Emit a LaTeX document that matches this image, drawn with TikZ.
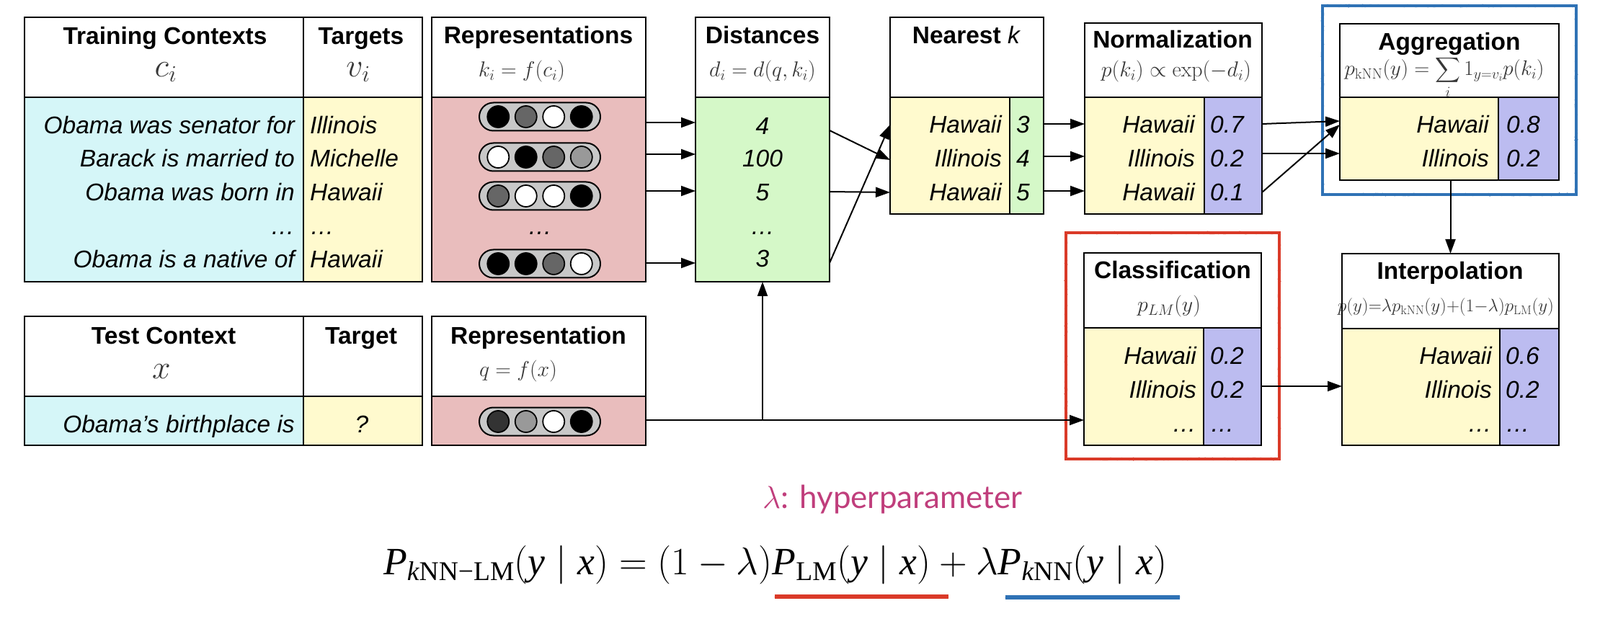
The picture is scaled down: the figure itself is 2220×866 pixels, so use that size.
\RequirePackage{fix-cm}
\documentclass[tikz,border=0pt]{standalone}
\usepackage{amsmath}
\usepackage{graphicx}
\usepackage[no-math]{fontspec}
\setmainfont{Liberation Sans}
\newfontfamily\kTimes{Liberation Serif}
\newfontfamily\kLato{Lato}
\usetikzlibrary{arrows.meta,decorations.pathmorphing,calc}

\definecolor{cyanF}{RGB}{213,246,248}
\definecolor{yelF}{RGB}{255,250,206}
\definecolor{pinkF}{RGB}{233,189,189}
\definecolor{greenF}{RGB}{213,248,200}
\definecolor{lavF}{RGB}{188,188,240}
\definecolor{pillF}{RGB}{200,200,200}
\definecolor{redM}{RGB}{218,58,40}
\definecolor{blueM}{RGB}{47,114,181}
\definecolor{magT}{RGB}{192,62,124}
\definecolor{frmC}{RGB}{55,55,55}
\definecolor{gA}{RGB}{102,102,102}
\definecolor{gB}{RGB}{153,153,153}
\definecolor{gC}{RGB}{51,51,51}

\newcommand{\kfsBody}{\fontsize{33.5}{40}\selectfont}
\newcommand{\kfsHdr}{\fontsize{33.5}{40}\selectfont\bfseries}
\newcommand{\kfsFrm}{\fontsize{30}{36}\selectfont}
\newcommand{\kfsBig}{\fontsize{46}{52}\selectfont}
\newcommand{\kfsEq}{\fontsize{56}{64}\selectfont}
\newcommand{\kfsHyp}{\fontsize{44}{50}\selectfont}
\newcommand{\kT}[1]{\text{\kTimes\itshape #1}}
\newcommand{\kR}[1]{\text{\kTimes\upshape #1}}

\tikzset{
  cell/.style={draw=black, line width=2pt, inner sep=0pt, outer sep=0pt, anchor=north west},
  ttl/.style={font=\kfsHdr, anchor=base, inner sep=0pt},
  frm/.style={font=\kfsFrm, text=frmC, anchor=base, inner sep=0pt},
  bigmath/.style={font=\kfsBig, text=frmC, anchor=base, inner sep=0pt},
  rowR/.style={font=\kfsBody\itshape, anchor=base east, inner sep=0pt},
  rowL/.style={font=\kfsBody\itshape, anchor=base west, inner sep=0pt},
  rowC/.style={font=\kfsBody\itshape, anchor=base, inner sep=0pt},
  arr/.style={line width=2pt, -{Triangle[length=20pt,width=14pt]}},
  pill/.style={draw, line width=2pt, fill=pillF, rounded corners=19.5pt, minimum width=168pt, minimum height=39pt, inner sep=0pt},
  dotc/.style={circle, draw, line width=1.8pt, minimum size=30pt, inner sep=0pt},
  hiliteR/.style={draw=redM, line width=4pt},
  hiliteB/.style={draw=blueM, line width=4pt},
  roughR/.style={draw=redM, line width=2pt, decorate, decoration={random steps, segment length=2.5pt, amplitude=1.3pt}},
  roughB/.style={draw=blueM, line width=2pt, decorate, decoration={random steps, segment length=2.5pt, amplitude=1.3pt}},
}

\newcommand{\cellat}[6]{\node[cell, fill=#6, minimum width=#4pt, minimum height=#5pt] (#1) at (#2,#3) {};}
\newcommand{\pillrow}[6]{%
  \node[pill] (#1) at (749,#2) {};
  \node[dotc, fill=#3] (#1a) at ([xshift=-57.75pt]#1.center) {};
  \node[dotc, fill=#4] (#1b) at ([xshift=-19.25pt]#1.center) {};
  \node[dotc, fill=#5] (#1c) at ([xshift=19.25pt]#1.center) {};
  \node[dotc, fill=#6] (#1d) at ([xshift=57.75pt]#1.center) {};}

\begin{document}
\begin{tikzpicture}[x=1pt,y=-1pt]
\useasboundingbox (0,0) rectangle (2220,866);

% ---------- cells ----------
\cellat{ctxhdr}{34}{24}{387}{111}{white}
\cellat{tgthdr}{421}{24}{165}{111}{white}
\cellat{ctxbody}{34}{135}{387}{256}{cyanF}
\cellat{tgtbody}{421}{135}{165}{256}{yelF}
\cellat{rephdr}{599}{24}{297}{111}{white}
\cellat{repbody}{599}{135}{297}{256}{pinkF}
\cellat{disthdr}{965}{24}{186}{111}{white}
\cellat{distbody}{965}{135}{186}{256}{greenF}
\cellat{nearhdr}{1235}{24}{213}{111}{white}
\cellat{nearbody}{1235}{135}{166}{162}{yelF}
\cellat{nearval}{1401}{135}{47}{162}{greenF}
\cellat{normhdr}{1505}{32}{246}{103}{white}
\cellat{normbody}{1505}{135}{166}{162}{yelF}
\cellat{normval}{1671}{135}{80}{162}{lavF}
\cellat{agghdr}{1859}{33}{304}{102}{white}
\cellat{aggbody}{1859}{135}{220}{115}{yelF}
\cellat{aggval}{2079}{135}{84}{115}{lavF}
\cellat{testhdr}{34}{439}{387}{111}{white}
\cellat{ttgthdr}{421}{439}{165}{111}{white}
\cellat{testbody}{34}{550}{387}{68}{cyanF}
\cellat{ttgtbody}{421}{550}{165}{68}{yelF}
\cellat{qhdr}{599}{439}{297}{111}{white}
\cellat{qbody}{599}{550}{297}{68}{pinkF}
\cellat{clshdr}{1504}{351}{246}{104}{white}
\cellat{clsbody}{1504}{455}{166}{163}{yelF}
\cellat{clsval}{1670}{455}{80}{163}{lavF}
\cellat{inthdr}{1862}{352}{301}{104}{white}
\cellat{intbody}{1862}{456}{219}{162}{yelF}
\cellat{intval}{2081}{456}{82}{162}{lavF}

% ---------- highlight frames ----------
\draw[hiliteR] (1479,323) rectangle (1775,637);
\draw[roughR] (1479,323) rectangle (1775,637);
\draw[hiliteB] (1835,8) rectangle (2187,270);
\draw[roughB] (1835,8) rectangle (2187,270);

% ---------- titles ----------
\node[ttl] (t1) at (229,62) {Training Contexts};
\node[ttl] (t2) at (501,62) {Targets};
\node[ttl] (t3) at (747,61) {Representations};
\node[ttl] (t4) at (1058,61) {Distances};
\node[ttl] (t5) at (1341,61) {Nearest \textnormal{\itshape k}};
\node[ttl] (t6) at (1627,67) {Normalization};
\node[ttl] (t7) at (2011,70) {Aggregation};
\node[ttl] (t8) at (227,477) {Test Context};
\node[ttl] (t9) at (501,477) {Target};
\node[ttl] (t10) at (747,477) {Representation};
\node[ttl] (t11) at (1627,387) {Classification};
\node[ttl] (t12) at (2012,388) {Interpolation};

% ---------- formulas ----------
\node[bigmath] (m1) at (230,107) {$c_i$};
\node[bigmath] (m2) at (497,107) {$v_i$};
\node[bigmath] (m3) at (224,525) {$x$};
\node[frm] (m4) at (724,107) {$k_i = f(c_i)$};
\node[frm] (m5) at (1058,107) {$d_i = d(q,k_i)$};
\node[frm] (m6) at (1632,107) {$p(k_i) \propto \exp(-d_i)$};
\node[frm] (m7) at (2004,105) {\resizebox{277pt}{!}{$p_{\mathrm{kNN}}(y) = \displaystyle\sum_i 1_{y=v_i} p(k_i)$}};
\node[frm] (m8) at (1622,433) {$p_{LM}(y)$};
\node[frm] (m9) at (2006,433) {\resizebox{300pt}{!}{$p(y){=}\lambda p_{\mathrm{kNN}}(y){+}(1{-}\lambda)p_{\mathrm{LM}}(y)$}};
\node[frm] (m10) at (719,522) {$q = f(x)$};

% ---------- training rows ----------
\node[rowR] (c1) at (409,186) {Obama was senator for};
\node[rowR] (c2) at (409,232) {Barack is married to};
\node[rowR] (c3) at (409,279) {Obama was born in};
\node[rowR] (c4) at (409,326) {…};
\node[rowR] (c5) at (409,372) {Obama is a native of};
\node[rowL] (v1) at (430,186) {Illinois};
\node[rowL] (v2) at (430,232) {Michelle};
\node[rowL] (v3) at (430,279) {Hawaii};
\node[rowL] (v4) at (430,326) {…};
\node[rowL] (v5) at (430,372) {Hawaii};

% ---------- representations ----------
\pillrow{p1}{162}{black}{gA}{white}{black}
\pillrow{p2}{218}{white}{black}{gA}{gB}
\pillrow{p3}{272}{gA}{white}{white}{black}
\node[rowC] (p4) at (749,326) {…};
\pillrow{p5}{366}{black}{black}{gA}{white}
\node[pill] (pq) at (749,585) {};
\node[dotc, fill=gC] (pqa) at ([xshift=-57.75pt]pq.center) {};
\node[dotc, fill=gB] (pqb) at ([xshift=-19.25pt]pq.center) {};
\node[dotc, fill=white] (pqc) at ([xshift=19.25pt]pq.center) {};
\node[dotc, fill=black] (pqd) at ([xshift=57.75pt]pq.center) {};

% ---------- distances ----------
\node[rowC] (d1) at (1058,187) {4};
\node[rowC] (d2) at (1058,232) {100};
\node[rowC] (d3) at (1058,279) {5};
\node[rowC] (d4) at (1058,326) {…};
\node[rowC] (d5) at (1058,371) {3};

% ---------- nearest ----------
\node[rowR] (n1) at (1390,185) {Hawaii};
\node[rowR] (n2) at (1390,232) {Illinois};
\node[rowR] (n3) at (1390,279) {Hawaii};
\node[rowL] (nv1) at (1410,185) {3};
\node[rowL] (nv2) at (1410,232) {4};
\node[rowL] (nv3) at (1410,279) {5};

% ---------- normalization ----------
\node[rowR] (o1) at (1658,185) {Hawaii};
\node[rowR] (o2) at (1658,232) {Illinois};
\node[rowR] (o3) at (1658,279) {Hawaii};
\node[rowL] (ov1) at (1679,185) {0.7};
\node[rowL] (ov2) at (1679,232) {0.2};
\node[rowL] (ov3) at (1679,279) {0.1};

% ---------- aggregation ----------
\node[rowR] (g1) at (2066,185) {Hawaii};
\node[rowR] (g2) at (2066,232) {Illinois};
\node[rowL] (gv1) at (2090,185) {0.8};
\node[rowL] (gv2) at (2090,232) {0.2};

% ---------- test ----------
\node[rowR] (x1) at (409,600) {Obama’s birthplace is};
\node[rowC] (x2) at (502,600) {?};

% ---------- classification ----------
\node[rowR] (k1) at (1660,505) {Hawaii};
\node[rowR] (k2) at (1660,552) {Illinois};
\node[rowR] (k3) at (1660,599) {…};
\node[rowL] (kv1) at (1679,505) {0.2};
\node[rowL] (kv2) at (1679,552) {0.2};
\node[rowL] (kv3) at (1679,599) {…};

% ---------- interpolation ----------
\node[rowR] (i1) at (2070,505) {Hawaii};
\node[rowR] (i2) at (2070,552) {Illinois};
\node[rowR] (i3) at (2070,599) {…};
\node[rowL] (iv1) at (2089,505) {0.6};
\node[rowL] (iv2) at (2089,552) {0.2};
\node[rowL] (iv3) at (2089,599) {…};

% ---------- connector rows ----------
\coordinate (ra) at (0,170);
\coordinate (rb) at (0,214);
\coordinate (rc) at (0,265);
\coordinate (rd) at (0,365);
\coordinate (dA) at (0,181);
\coordinate (dB) at (0,266);
\coordinate (dC) at (0,365);
\coordinate (nA) at (0,222);
\coordinate (nB) at (0,267);
\coordinate (nC) at (0,173);
\coordinate (sa) at (0,172);
\coordinate (sb) at (0,217);
\coordinate (sc) at (0,265);
\coordinate (ua) at (0,172);
\coordinate (ub) at (0,213);
\coordinate (uc) at (0,267);
\coordinate (wa) at (0,168);
\coordinate (wc) at (0,173);
\coordinate (cy) at (0,536);
\coordinate (qy) at (0,583);

% ---------- connectors ----------
\draw[arr] (repbody.east |- ra) -- (distbody.west |- ra);
\draw[arr] (repbody.east |- rb) -- (distbody.west |- rb);
\draw[arr] (repbody.east |- rc) -- (distbody.west |- rc);
\draw[arr] (repbody.east |- rd) -- (distbody.west |- rd);
\draw[arr] (distbody.east |- dA) -- (nearbody.west |- nA);
\draw[arr] (distbody.east |- dB) -- (nearbody.west |- nB);
\draw[arr] (distbody.east |- dC) -- (nearbody.west |- nC);
\draw[arr] (nearval.east |- sa) -- (normbody.west |- sa);
\draw[arr] (nearval.east |- sb) -- (normbody.west |- sb);
\draw[arr] (nearval.east |- sc) -- (normbody.west |- sc);
\draw[arr] (normval.east |- ua) -- (aggbody.west |- wa);
\draw[arr] (normval.east |- ub) -- (aggbody.west |- ub);
\draw[arr] (normval.east |- uc) -- (aggbody.west |- wc);
\draw[arr] (inthdr.north |- aggbody.south) -- (inthdr.north);
\draw[arr] (clsval.east |- cy) -- (intbody.west |- cy);
\draw[arr] (qbody.east |- qy) -- (clsbody.west |- qy);
\draw[arr] (distbody.south |- qy) -- (distbody.south);

% ---------- bottom ----------
\node[anchor=base west, inner sep=0pt, text=magT, font=\kfsHyp] (hyp) at (1058,705) {$\lambda$\kLato: hyperparameter};
\node[anchor=base west, inner sep=0pt, font=\kfsEq] (eq) at (532,797) {\resizebox{1087pt}{!}{$\kT{P}_{\kT{k}\kR{NN−LM}}(\kT{y}\mid\kT{x}) = (1-\lambda)\kT{P}_{\kR{LM}}(\kT{y}\mid\kT{x}) + \lambda \kT{P}_{\kT{k}\kR{NN}}(\kT{y}\mid\kT{x})$}};
\coordinate (ulR1) at (1075,828);
\coordinate (ulR2) at (1316,828);
\coordinate (ulB1) at (1395,829);
\coordinate (ulB2) at (1637,829);
\draw[draw=redM, line width=6pt] (ulR1) -- (ulR2);
\draw[roughR] (ulR1) -- (ulR2);
\draw[draw=blueM, line width=6pt] (ulB1) -- (ulB2);
\draw[roughB] (ulB1) -- (ulB2);
\end{tikzpicture}
\end{document}
